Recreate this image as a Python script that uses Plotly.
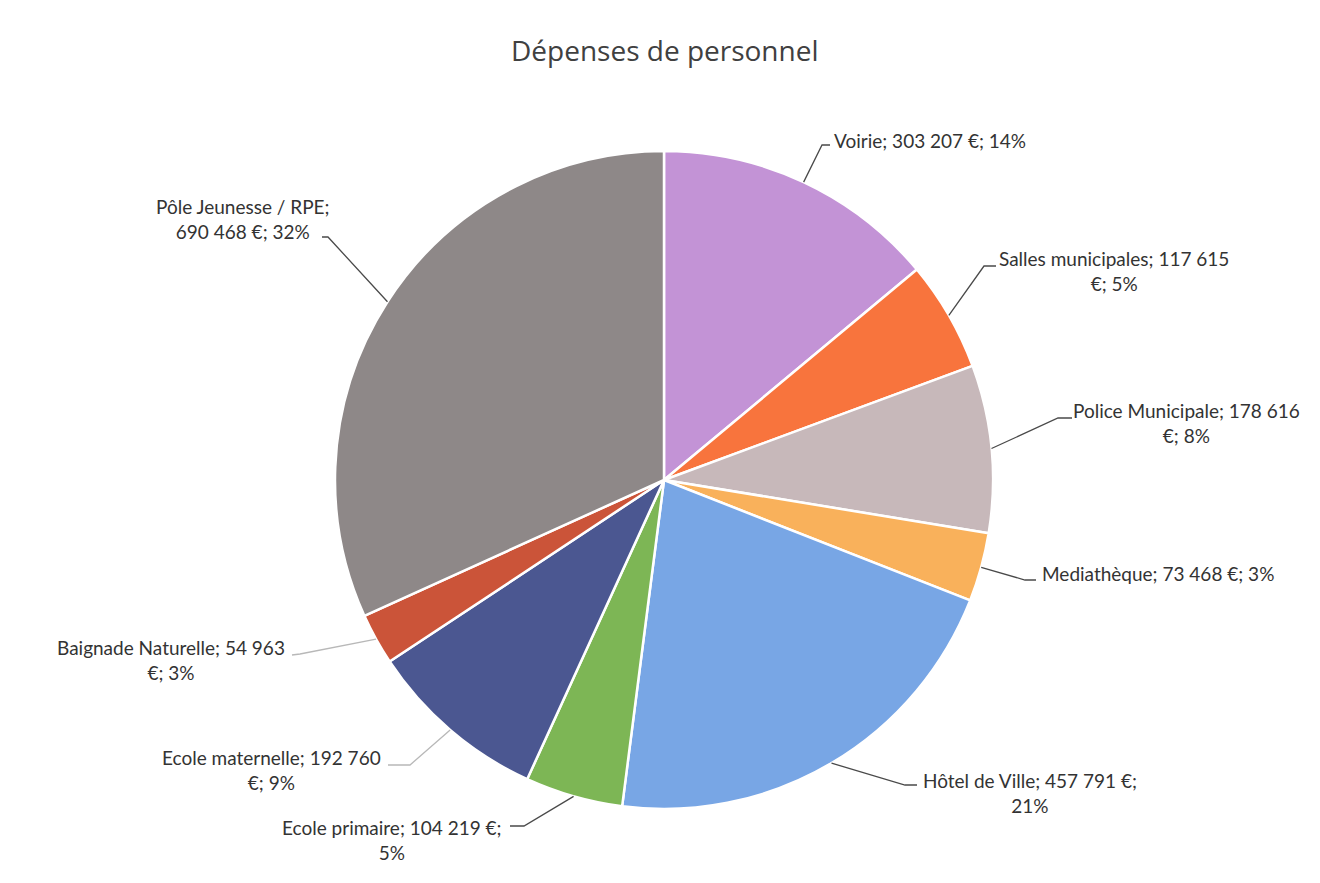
import math
import plotly.graph_objects as go

# ---- data ----
categories = ["Voirie", "Salles municipales", "Police Municipale", "Mediathèque",
              "Hôtel de Ville", "Ecole primaire", "Ecole maternelle",
              "Baignade Naturelle", "Pôle Jeunesse / RPE"]
values = [303207, 117615, 178616, 73468, 457791, 104219, 192760, 54963, 690468]
label_texts = [
    "Voirie; 303 207 €; 14%",
    "Salles municipales; 117 615<br>€; 5%",
    "Police Municipale; 178 616<br>€; 8%",
    "Mediathèque; 73 468 €; 3%",
    "Hôtel de Ville; 457 791 €;<br>21%",
    "Ecole primaire; 104 219 €;<br>5%",
    "Ecole maternelle; 192 760<br>€; 9%",
    "Baignade Naturelle; 54 963<br>€; 3%",
    "Pôle Jeunesse / RPE;<br>690 468 €; 32%",
]
colors = ["#C393D6", "#F8743D", "#C7B8BA", "#F9B15B", "#78A6E5",
          "#7DB655", "#4B5791", "#CB5439", "#8E8888"]

# ---- layout (screen pixels) ----
OFF = 8                      # default page body margin
W, H = 1320 - 2 * OFF, 883 - 2 * OFF
CX, CY, R = 664, 480, 329
label_pos = [(930, 140), (1114, 271), (1186, 423), (1158, 573), (1030, 793),
             (392, 840), (271, 770), (171, 660), (243, 219)]
elbows = [((822, 145), (830, 145)), ((984, 266), (996, 266)),
          ((1058, 418), (1072, 418)), ((1025, 580), (1036, 580)),
          ((905, 785), (917, 785)), ((524, 826), (510, 826)),
          ((410, 765), (388, 765)), ((300, 654), (292, 655)),
          ((328, 237), (322, 237))]
line_colors = ["#4a4a4a"] * 6 + ["#b8b8b8", "#b8b8b8", "#4a4a4a"]

def px(x):
    return (x - OFF) / W

def py(y):
    return 1 - (y - OFF) / H

fig = go.Figure(go.Pie(
    labels=categories, values=values, sort=False, direction="clockwise",
    rotation=0, textinfo="none", hoverinfo="label+value+percent",
    marker=dict(colors=colors, line=dict(color="white", width=2.5)),
    domain=dict(x=[px(CX - R), px(CX + R)], y=[py(CY + R), py(CY - R)]),
    showlegend=False,
))

total = sum(values)
cum = 0
shapes = []
annotations = []
for i, v in enumerate(values):
    mid = (cum + v / 2) / total * 2 * math.pi
    cum += v
    ex = CX + R * math.sin(mid)
    ey = CY - R * math.cos(mid)
    (bx, by), (tx, ty) = elbows[i]
    shapes.append(dict(
        type="path", xref="paper", yref="paper",
        path=f"M {px(ex)},{py(ey)} L {px(bx)},{py(by)} L {px(tx)},{py(ty)}",
        line=dict(color=line_colors[i], width=1.3),
    ))
    lx, ly = label_pos[i]
    annotations.append(dict(
        x=px(lx), y=py(ly), xref="paper", yref="paper", text=label_texts[i],
        showarrow=False, xanchor="center", yanchor="middle", align="center",
        font=dict(family="Lato, Open Sans, sans-serif", size=19, color="#333333"),
    ))

annotations.append(dict(
    x=px(665), y=py(50), xref="paper", yref="paper", text="Dépenses de personnel",
    showarrow=False, xanchor="center", yanchor="middle",
    font=dict(family="Open Sans, sans-serif", size=28, color="#404040"),
))

fig.update_layout(
    width=W, height=H, margin=dict(l=0, r=0, t=0, b=0),
    paper_bgcolor="white", plot_bgcolor="white",
    shapes=shapes, annotations=annotations,
)

fig.write_html("out.html")
